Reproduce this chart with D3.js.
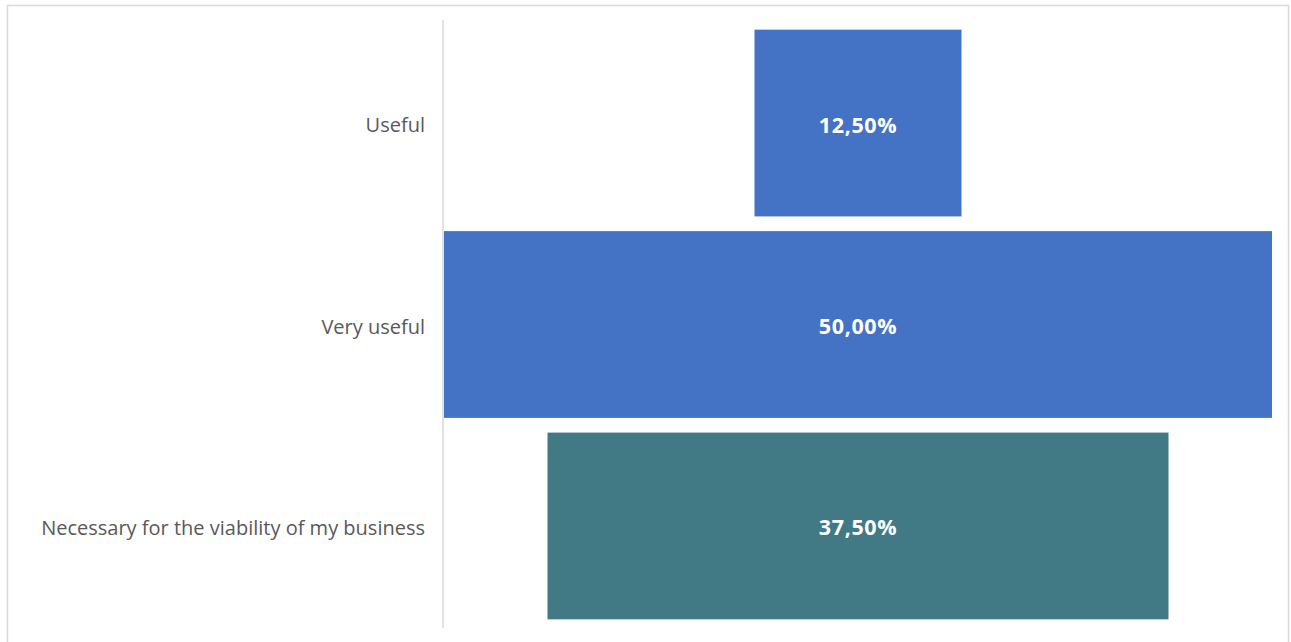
<!DOCTYPE html>
<html>
<head>
<meta charset="utf-8">
<script src="https://cdn.jsdelivr.net/npm/d3@7"></script>
<style>
  html, body { margin: 0; padding: 0; background: #fff; }
  svg { display: block; }
</style>
</head>
<body>
<svg id="chart" width="1291" height="642"></svg>
<script>
// Funnel chart: share of respondents per usefulness rating
const categories = ["Useful", "Very useful", "Necessary for the viability of my business"];
const values = [12.5, 50.0, 37.5];
const valueLabels = ["12,50%", "50,00%", "37,50%"];
const colors = ["#4472c4", "#4472c4", "#417a84"];

const W = 1291, H = 642;
const svg = d3.select("#chart");

// chart frame
svg.append("rect")
  .attr("x", 7.5).attr("y", 5.5)
  .attr("width", 1281).attr("height", 650)
  .attr("fill", "#fff")
  .attr("stroke", "#d9d9d9").attr("stroke-width", 1.5);

const plotLeft = 444, plotRight = 1272;
const centre = (plotLeft + plotRight) / 2;

const y = d3.scaleBand()
  .domain(categories)
  .range([22, 627])
  .paddingInner(0.073)
  .paddingOuter(0.038);

// half-width scale: bars grow symmetrically from the centre line
const w = d3.scaleLinear()
  .domain([0, d3.max(values)])
  .range([0, (plotRight - plotLeft) / 2]);

const rows = categories.map((c, i) => ({ c, v: values[i], label: valueLabels[i], color: colors[i] }));

svg.append("g").selectAll("rect")
  .data(rows)
  .join("rect")
  .attr("x", d => centre - w(d.v))
  .attr("y", d => y(d.c))
  .attr("width", d => 2 * w(d.v))
  .attr("height", y.bandwidth())
  .attr("fill", d => d.color);

// value labels
svg.append("g").selectAll("text")
  .data(rows)
  .join("text")
  .attr("x", centre)
  .attr("y", d => y(d.c) + y.bandwidth() / 2 + 2)
  .attr("dy", "0.35em")
  .attr("text-anchor", "middle")
  .attr("font-family", "'Open Sans', 'Noto Sans', sans-serif")
  .attr("font-size", 21.5)
  .attr("font-weight", 700)
  .attr("letter-spacing", 0.6)
  .attr("fill", "#ffffff")
  .text(d => d.label);

// category axis
const axis = svg.append("g")
  .attr("transform", `translate(443,0)`)
  .call(d3.axisLeft(y).tickSize(0).tickPadding(18));
axis.select(".domain").remove();
axis.append("line")
  .attr("x1", 0).attr("x2", 0)
  .attr("y1", 20).attr("y2", 628)
  .attr("stroke", "#d9d9d9").attr("stroke-width", 1.5);
axis.selectAll(".tick text")
  .attr("dy", "0.45em")
  .attr("font-family", "'Open Sans', 'Noto Sans', sans-serif")
  .attr("font-size", 20)
  .attr("fill", "#595959");
</script>
</body>
</html>
